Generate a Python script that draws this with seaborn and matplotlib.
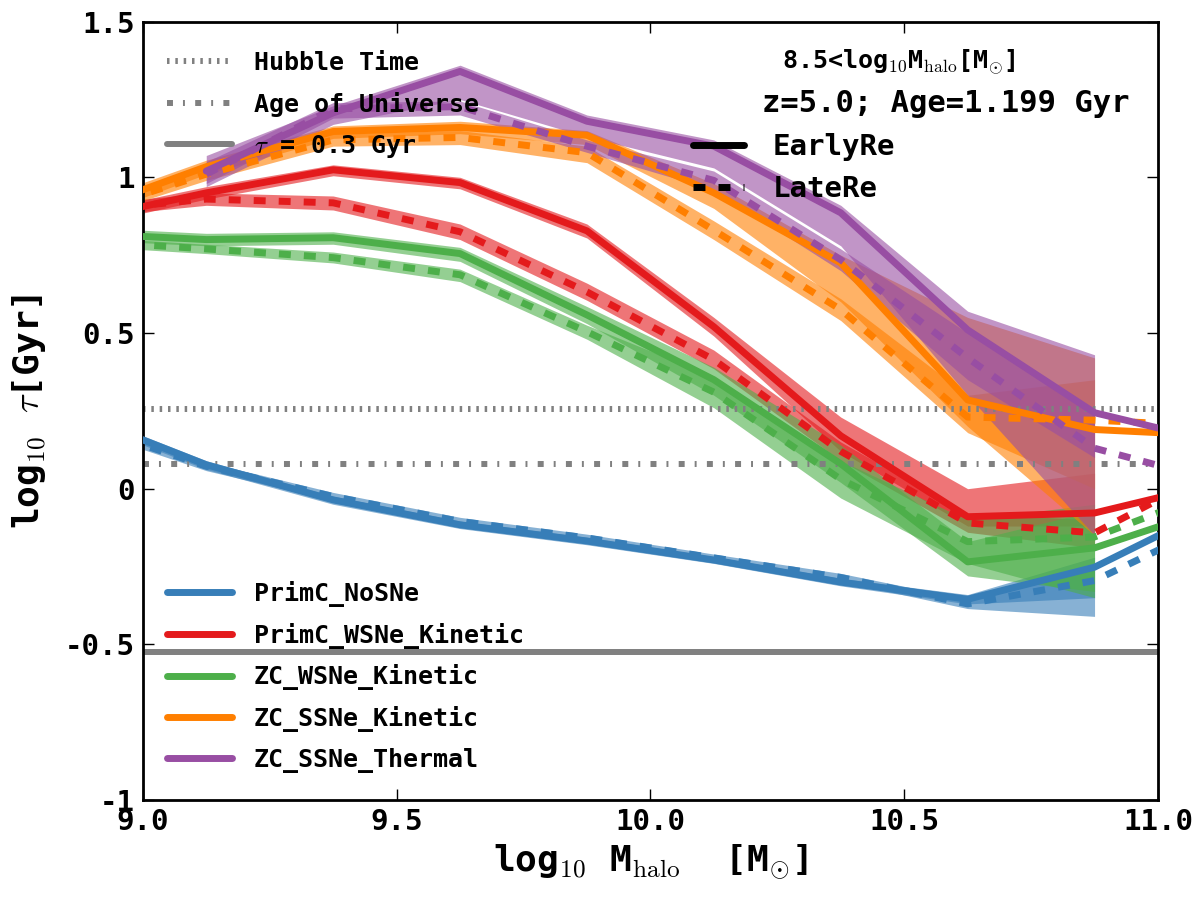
import numpy as np
import pandas as pd
import matplotlib
matplotlib.use("Agg")
import matplotlib.pyplot as plt
import seaborn as sns
from matplotlib.lines import Line2D
from matplotlib.ticker import FuncFormatter

# ---------------- data ----------------
log_mhalo = [8.875, 9.125, 9.375, 9.625, 9.875, 10.125, 10.375, 10.625, 10.875, 11.125]
models = ["PrimC_NoSNe", "PrimC_WSNe_Kinetic", "ZC_WSNe_Kinetic", "ZC_SSNe_Kinetic", "ZC_SSNe_Thermal"]
model_colors = ["#377eb8", "#e41a1c", "#4daf4a", "#ff7f00", "#984ea3"]
reionization = ["EarlyRe", "LateRe"]
nan = np.nan

# log10 tau [Gyr], EarlyRe
early_primc_nosne = [0.237, 0.077, -0.036, -0.116, -0.168, -0.229, -0.300, -0.355, -0.252, -0.05]
early_primc_wsne = [0.862, 0.950, 1.024, 0.983, 0.828, 0.520, 0.170, -0.090, -0.078, 0.02]
early_zc_wsne = [0.820, 0.800, 0.806, 0.755, 0.558, 0.350, 0.080, -0.235, -0.190, -0.055]
early_zc_ssne_kin = [0.886, 1.034, 1.147, 1.160, 1.135, 0.950, 0.725, 0.285, 0.190, 0.170]
early_zc_ssne_th = [nan, 1.020, 1.207, 1.340, 1.180, 1.100, 0.886, 0.510, 0.244, 0.146]

# log10 tau [Gyr], LateRe
late_primc_nosne = [0.210, 0.072, -0.025, -0.105, -0.158, -0.222, -0.285, -0.370, -0.295, -0.10]
late_primc_wsne = [0.890, 0.930, 0.918, 0.825, 0.632, 0.414, 0.120, -0.110, -0.142, 0.07]
late_zc_wsne = [0.796, 0.770, 0.742, 0.687, 0.504, 0.310, 0.030, -0.170, -0.155, 0.0]
late_zc_ssne_kin = [0.880, 1.010, 1.120, 1.128, 1.079, 0.830, 0.575, 0.230, 0.220, 0.200]
late_zc_ssne_th = [nan, 1.010, 1.220, 1.227, 1.100, 0.990, 0.735, 0.420, 0.130, 0.020]

# scatter bands (lower / upper), defined up to log M = 10.875
early_lo_primc_nosne = [0.220, 0.062, -0.050, -0.128, -0.180, -0.240, -0.312, -0.370, -0.350]
early_hi_primc_nosne = [0.250, 0.090, -0.024, -0.104, -0.156, -0.218, -0.288, -0.340, -0.220]
late_lo_primc_nosne = [0.195, 0.058, -0.038, -0.118, -0.170, -0.235, -0.298, -0.385, -0.410]
late_hi_primc_nosne = [0.225, 0.086, -0.012, -0.092, -0.146, -0.210, -0.272, -0.355, -0.250]

early_lo_primc_wsne = [0.840, 0.930, 1.005, 0.963, 0.805, 0.490, 0.120, -0.120, -0.120]
early_hi_primc_wsne = [0.885, 0.970, 1.040, 1.000, 0.850, 0.550, 0.230, 0.000, 0.050]
late_lo_primc_wsne = [0.870, 0.910, 0.895, 0.800, 0.605, 0.385, 0.090, -0.140, -0.190]
late_hi_primc_wsne = [0.910, 0.950, 0.940, 0.850, 0.660, 0.445, 0.150, -0.080, -0.100]

early_lo_zc_wsne = [0.800, 0.780, 0.785, 0.730, 0.530, 0.300, 0.020, -0.280, -0.330]
early_hi_zc_wsne = [0.840, 0.820, 0.825, 0.775, 0.585, 0.390, 0.140, -0.170, -0.070]
late_lo_zc_wsne = [0.780, 0.755, 0.725, 0.665, 0.480, 0.260, -0.030, -0.240, -0.350]
late_hi_zc_wsne = [0.810, 0.785, 0.760, 0.705, 0.525, 0.360, 0.090, -0.100, -0.050]

early_lo_zc_ssne_kin = [0.860, 1.010, 1.125, 1.140, 1.105, 0.900, 0.600, 0.200, -0.150]
early_hi_zc_ssne_kin = [0.910, 1.055, 1.165, 1.180, 1.150, 0.980, 0.750, 0.550, 0.420]
late_lo_zc_ssne_kin = [0.860, 0.990, 1.100, 1.105, 1.047, 0.800, 0.540, 0.180, 0.000]
late_hi_zc_ssne_kin = [0.900, 1.030, 1.140, 1.150, 1.100, 0.860, 0.610, 0.300, 0.350]

early_lo_zc_ssne_th = [nan, 0.970, 1.170, 1.250, 1.130, 1.030, 0.780, 0.300, -0.150]
early_hi_zc_ssne_th = [nan, 1.070, 1.230, 1.360, 1.200, 1.120, 0.910, 0.570, 0.430]
late_lo_zc_ssne_th = [nan, 0.980, 1.190, 1.200, 1.080, 0.960, 0.700, 0.350, 0.100]
late_hi_zc_ssne_th = [nan, 1.050, 1.240, 1.245, 1.120, 1.020, 0.770, 0.500, 0.250]

# reference timescales, log10 Gyr
hubble_time = 0.256
age_universe = 0.079
tau_03 = -0.523

ref_labels = ["Hubble Time", "Age of Universe", r"$\tau$ = 0.3 Gyr"]
info_text_1 = r"8.5<log$_{10}$M$_{\rm halo}$[M$_{\odot}$]"
info_text_2 = "z=5.0; Age=1.199 Gyr"

# ---------------- assemble ----------------
medians = {
    ("EarlyRe", models[0]): early_primc_nosne, ("LateRe", models[0]): late_primc_nosne,
    ("EarlyRe", models[1]): early_primc_wsne, ("LateRe", models[1]): late_primc_wsne,
    ("EarlyRe", models[2]): early_zc_wsne, ("LateRe", models[2]): late_zc_wsne,
    ("EarlyRe", models[3]): early_zc_ssne_kin, ("LateRe", models[3]): late_zc_ssne_kin,
    ("EarlyRe", models[4]): early_zc_ssne_th, ("LateRe", models[4]): late_zc_ssne_th,
}
bands = {
    ("EarlyRe", models[0]): (early_lo_primc_nosne, early_hi_primc_nosne),
    ("LateRe", models[0]): (late_lo_primc_nosne, late_hi_primc_nosne),
    ("EarlyRe", models[1]): (early_lo_primc_wsne, early_hi_primc_wsne),
    ("LateRe", models[1]): (late_lo_primc_wsne, late_hi_primc_wsne),
    ("EarlyRe", models[2]): (early_lo_zc_wsne, early_hi_zc_wsne),
    ("LateRe", models[2]): (late_lo_zc_wsne, late_hi_zc_wsne),
    ("EarlyRe", models[3]): (early_lo_zc_ssne_kin, early_hi_zc_ssne_kin),
    ("LateRe", models[3]): (late_lo_zc_ssne_kin, late_hi_zc_ssne_kin),
    ("EarlyRe", models[4]): (early_lo_zc_ssne_th, early_hi_zc_ssne_th),
    ("LateRe", models[4]): (late_lo_zc_ssne_th, late_hi_zc_ssne_th),
}

rows = []
for (re, m), vals in medians.items():
    for xv, yv in zip(log_mhalo, vals):
        if not np.isnan(yv):
            rows.append({"logM": xv, "tau": yv, "model": m, "reion": re})
df = pd.DataFrame(rows)

# ---------------- style ----------------
sns.set_style("ticks")
plt.rcParams["font.family"] = ["DejaVu Sans Mono", "DejaVu Sans"]
plt.rcParams["font.weight"] = "bold"
plt.rcParams["mathtext.fontset"] = "cm"
plt.rcParams["lines.scale_dashes"] = False
plt.rcParams["axes.linewidth"] = 2.0
for key in ["text.color", "axes.labelcolor", "xtick.color", "ytick.color", "axes.edgecolor"]:
    plt.rcParams[key] = "black"

fig, ax = plt.subplots(figsize=(12, 9), dpi=100)
fig.subplots_adjust(left=0.119, right=0.965, top=0.976, bottom=0.111)

# bands
for (re, m), (lo, hi) in bands.items():
    c = model_colors[models.index(m)]
    xb = np.array(log_mhalo[:len(lo)])
    ax.fill_between(xb, lo, hi, color=c, alpha=0.6, lw=0, zorder=1)

# median lines
sns.lineplot(data=df, x="logM", y="tau", hue="model", style="reion",
             hue_order=models, palette=model_colors, style_order=reionization,
             dashes={"EarlyRe": "", "LateRe": (8.6, 9.4)},
             lw=5, estimator=None, errorbar=None, sort=True,
             legend=False, ax=ax, zorder=3)

grey = "#808080"
ref_styles = [dict(dashes=(1.8, 4.2)), dict(dashes=(4.3, 7.2, 1.4, 7.4)), dict(linestyle="-")]
for yv, st in zip([hubble_time, age_universe, tau_03], ref_styles):
    ax.axhline(yv, color=grey, lw=4.3, zorder=2, **st)

ax.set_xlim(9.0, 11.0)
ax.set_ylim(-1.0, 1.5)
ax.set_xticks([9.0, 9.5, 10.0, 10.5, 11.0])
ax.set_yticks([-1.0, -0.5, 0.0, 0.5, 1.0, 1.5])
ax.xaxis.set_major_formatter(FuncFormatter(lambda v, p: f"{v:.1f}"))
ax.yaxis.set_major_formatter(FuncFormatter(lambda v, p: f"{v:g}"))
ax.tick_params(direction="in", top=True, right=True, length=8, width=1,
               labelsize=21, pad=6, colors="black")
for lab in ax.get_xticklabels() + ax.get_yticklabels():
    lab.set_fontweight("bold")
for s in ax.spines.values():
    s.set_color("black")

ax.set_xlabel(r"log$_{10}$ M$_{\rm halo}$  [M$_{\odot}$]", fontsize=26, fontweight="bold", labelpad=4)
ax.set_ylabel(r"log$_{10}$ $\tau$[Gyr]", fontsize=26, fontweight="bold", labelpad=12)

# legend 1: reference timescales
ref_handles = [Line2D([], [], color=grey, lw=4.3, **st) for st in ref_styles]
leg1 = ax.legend(ref_handles, ref_labels, loc="upper left", bbox_to_anchor=(0.002, 0.991),
                 frameon=False, fontsize=18, handlelength=2.6, handletextpad=0.85,
                 labelspacing=0.66, borderaxespad=0.5)
ax.add_artist(leg1)

# legend 2: models
model_handles = [Line2D([], [], color=c, lw=5) for c in model_colors]
leg2 = ax.legend(model_handles, models, loc="lower left", bbox_to_anchor=(0.002, 0.006),
                 frameon=False, fontsize=18, handlelength=2.6, handletextpad=0.85,
                 labelspacing=0.63, borderaxespad=0.5)
ax.add_artist(leg2)

# legend 3: reionization
re_handles = [Line2D([], [], color="black", lw=5),
              Line2D([], [], color="black", lw=5, dashes=(8.6, 9.4))]
leg3 = ax.legend(re_handles, reionization, loc="upper left", bbox_to_anchor=(0.53, 0.872),
                 frameon=False, fontsize=21, handlelength=1.75, handletextpad=1.0,
                 labelspacing=0.5, borderaxespad=0.0)

ax.text(0.745, 0.948, info_text_1, transform=ax.transAxes, ha="center", va="center",
        fontsize=18, fontweight="bold")
ax.text(0.61, 0.895, info_text_2, transform=ax.transAxes, ha="left", va="center",
        fontsize=22, fontweight="bold")

fig.savefig("out.png", dpi=100)
